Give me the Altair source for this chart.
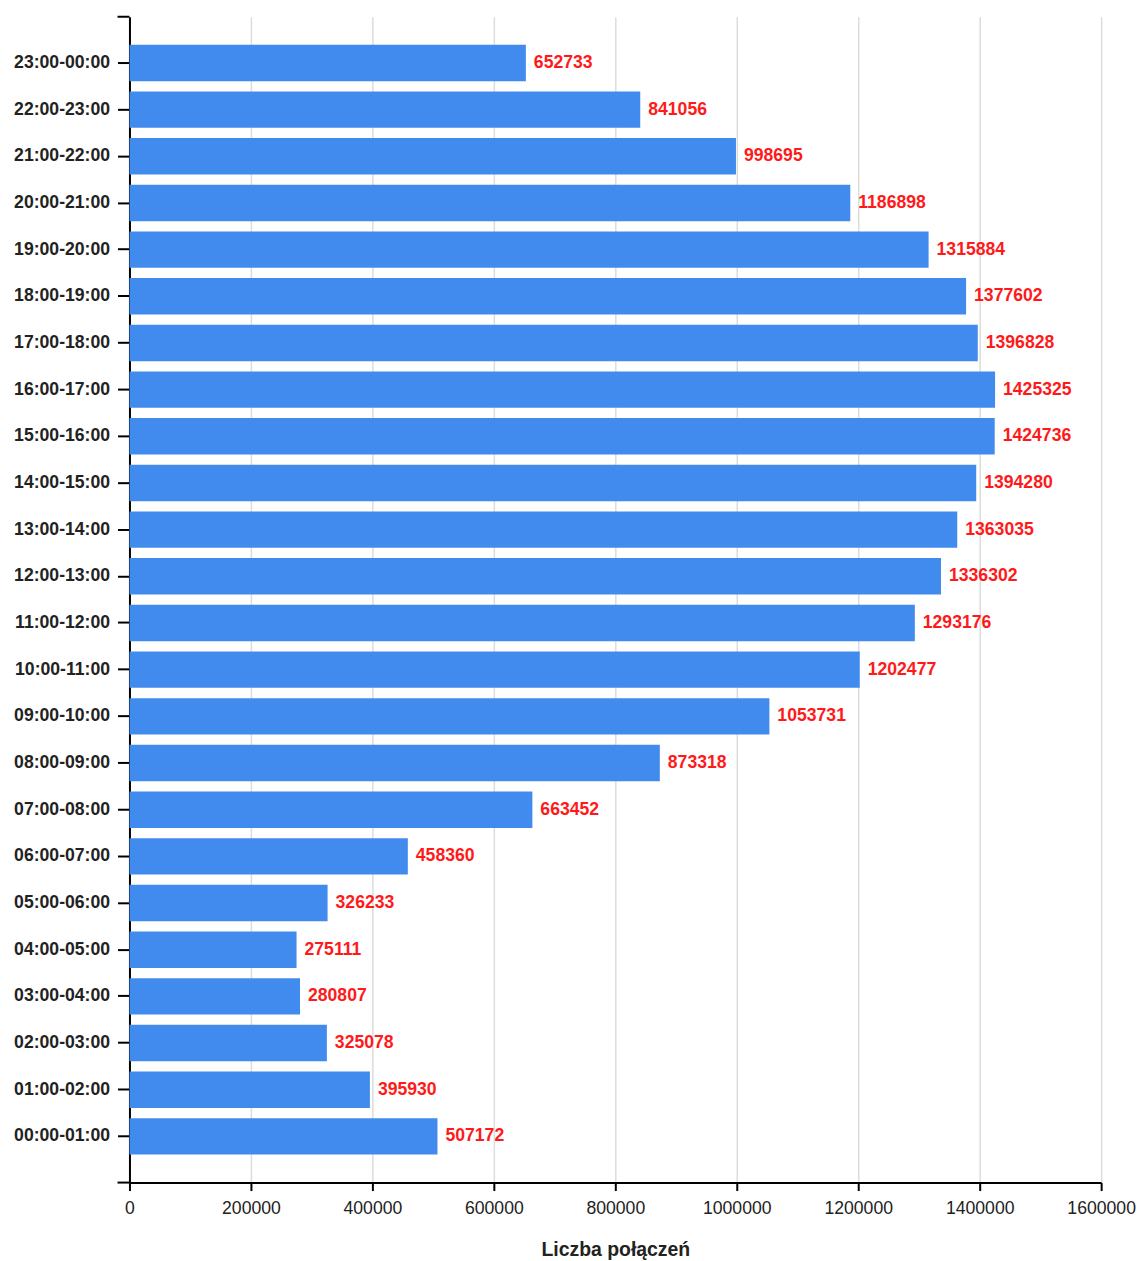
import altair as alt
import pandas as pd

hours = [
    "00:00-01:00", "01:00-02:00", "02:00-03:00", "03:00-04:00", "04:00-05:00",
    "05:00-06:00", "06:00-07:00", "07:00-08:00", "08:00-09:00", "09:00-10:00",
    "10:00-11:00", "11:00-12:00", "12:00-13:00", "13:00-14:00", "14:00-15:00",
    "15:00-16:00", "16:00-17:00", "17:00-18:00", "18:00-19:00", "19:00-20:00",
    "20:00-21:00", "21:00-22:00", "22:00-23:00", "23:00-00:00",
]
counts = [
    507172, 395930, 325078, 280807, 275111,
    326233, 458360, 663452, 873318, 1053731,
    1202477, 1293176, 1336302, 1363035, 1394280,
    1424736, 1425325, 1396828, 1377602, 1315884,
    1186898, 998695, 841056, 652733,
]
x_ticks = [0, 200000, 400000, 600000, 800000, 1000000, 1200000, 1400000, 1600000]

df = pd.DataFrame({"hour": hours, "count": counts})

FONT = "Liberation Sans"
W, H = 976, 1171

y_enc = alt.Y(
    "hour:N",
    sort=hours[::-1],
    scale=alt.Scale(paddingInner=0.22, paddingOuter=0.6),
    axis=alt.Axis(
        title=None,
        labelFont=FONT,
        labelFontSize=17.7,
        labelFontWeight="bold",
        labelColor="#222222",
        labelPadding=8,
        tickSize=12,
        tickColor="#000000",
        tickWidth=2,
        domainColor="#000000",
        domainWidth=2,
        grid=False,
    ),
)

x_enc = alt.X(
    "count:Q",
    scale=alt.Scale(domain=[0, 1600000], nice=False),
    axis=alt.Axis(
        title="Liczba połączeń",
        titleFont=FONT,
        titleFontSize=19.5,
        titleFontWeight="bold",
        titleColor="#222222",
        titlePadding=24,
        values=x_ticks,
        format="d",
        labelFont=FONT,
        labelFontSize=17.7,
        labelColor="#222222",
        labelPadding=9,
        labelFlush=False,
        tickSize=8,
        tickColor="#000000",
        tickWidth=2,
        domainColor="#000000",
        domainWidth=2,
        grid=True,
        gridColor="#dcdcdc",
        gridWidth=1.5,
    ),
)

bars = alt.Chart(df).mark_bar(color="#428BEE").encode(x=x_enc, y=y_enc)

labels = alt.Chart(df).mark_text(
    align="left", baseline="middle", dx=8,
    font=FONT, fontSize=17.7, fontWeight="bold", color="#FF1A1A",
).encode(x="count:Q", y=alt.Y("hour:N", sort=hours[::-1]), text="count:Q")

top_tick = alt.Chart(df.head(1)).mark_rule(color="#000000", strokeWidth=2).encode(
    x=alt.value(-12), x2=alt.value(0), y=alt.value(0)
)
bottom_tick = alt.Chart(df.head(1)).mark_rule(color="#000000", strokeWidth=2).encode(
    x=alt.value(-12), x2=alt.value(0), y=alt.value(H)
)

chart = (
    alt.layer(bars, labels, top_tick, bottom_tick)
    .properties(
        width=W, height=H, background="white",
        padding={"left": 5, "top": 5, "right": 0, "bottom": 0},
    )
    .configure_view(stroke=None)
)

chart.save("out.html", embed_options={"renderer": "svg", "actions": False})
